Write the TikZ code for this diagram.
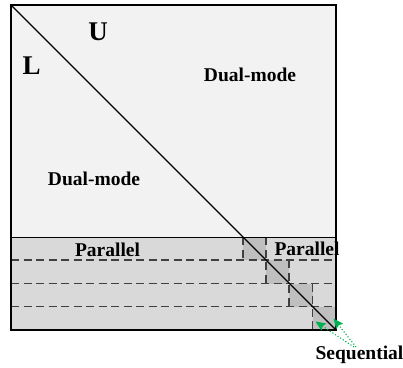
\documentclass[tikz,border=0pt]{standalone}
\usepackage{fontspec}
\setmainfont{Liberation Serif}
\usetikzlibrary{arrows.meta}
\definecolor{upper}{HTML}{F2F2F2}
\definecolor{band}{HTML}{D9D9D9}
\definecolor{blk}{HTML}{BFBFBF}
\definecolor{dashc}{HTML}{404040}
\definecolor{grn}{HTML}{00B050}
\tikzset{
  lbl/.style={font=\bfseries\fontsize{19.5}{20}\selectfont, inner sep=0pt, anchor=base},
  big/.style={font=\bfseries\fontsize{27}{28}\selectfont, inner sep=0pt, anchor=base},
  dsh/.style={draw=dashc, line width=1.2pt, dash pattern=on 8pt off 4.5pt},
  garrow/.style={draw=grn, line width=1.1pt, dotted, -{Stealth[length=10pt,width=8.5pt,inset=1.5pt]}}
}
\begin{document}
\begin{tikzpicture}[x=1pt,y=-1pt]
\useasboundingbox (0,0) rectangle (403,367);
% regions
\fill[upper] (11,5) rectangle (336,237.3);
\fill[band] (11,237.3) rectangle (336,330);
\fill[blk] (243,237.3) rectangle (266,260);
\fill[blk] (266,260) rectangle (289,283.7);
\fill[blk] (289,283.7) rectangle (312.7,306.7);
\fill[blk] (312.7,306.7) rectangle (336,330);
% dashed lines
\draw[dsh] (11,260) -- (336,260);
\draw[dsh] (11,283.7) -- (336,283.7);
\draw[dsh] (11,306.7) -- (336,306.7);
\draw[dsh] (243,237.3) -- (243,260);
\draw[dsh] (266,237.3) -- (266,283.7);
\draw[dsh] (289,260) -- (289,306.7);
\draw[dsh] (312.7,283.7) -- (312.7,330);
% solid lines
\draw[line width=1.2pt] (11,237.3) -- (336,237.3);
\coordinate (tl) at (11,5);
\coordinate (br) at (336,330);
\draw[line width=1.2pt] (tl) -- (br);
\draw[line width=1.8pt] (11,5) rectangle (336,330);
% labels
\node[big] (U) at (98,40) {U};
\node[big] (L) at (31.7,74) {L};
\node[lbl] (dm1) at (250,81) {Dual-mode};
\node[lbl] (dm2) at (94,185.5) {Dual-mode};
\node[lbl] (par1) at (107.5,256.5) {Parallel};
\node[lbl] (par2) at (307,255) {Parallel};
\node[lbl] (seq) at (359.5,359) {Sequential};
% arrows
\coordinate (s1) at (354,347);
\coordinate (s2) at (356,347);
\coordinate (t1) at (315.5,321.5);
\coordinate (t2) at (333.5,318.5);
\draw[garrow] (s1) -- (t1);
\draw[garrow] (s2) -- (t2);
\end{tikzpicture}
\end{document}
